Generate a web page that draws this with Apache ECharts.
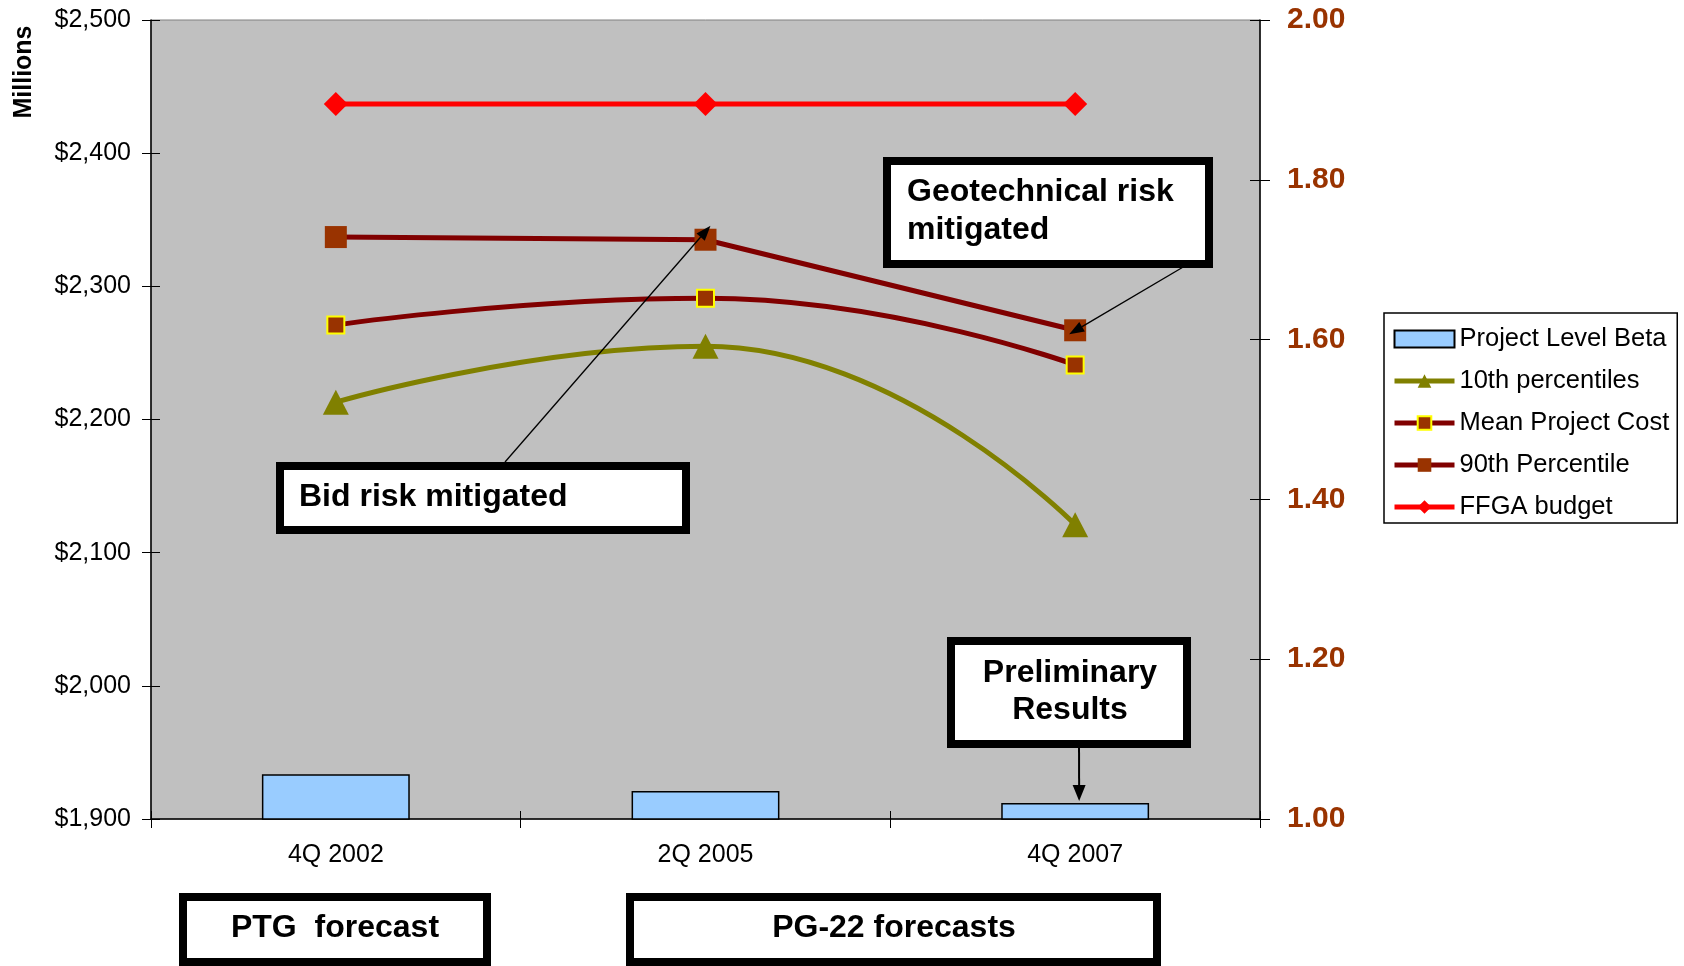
<!DOCTYPE html>
<html>
<head>
<meta charset="utf-8">
<script src="https://cdn.jsdelivr.net/npm/echarts@6/dist/echarts.min.js"></script>
<style>
html,body{margin:0;padding:0;background:#fff;}
#c{width:1684px;height:966px;}
</style>
</head>
<body>
<div id="c"></div>
<script>
var categories = ['4Q 2002', '2Q 2005', '4Q 2007'];
var projectLevelBeta = [1.056, 1.035, 1.020];
var tenthPercentiles = [2213, 2255, 2121];
var meanProjectCost = [2271, 2291, 2241];
var ninetiethPercentile = [2337, 2335, 2267];
var ffgaBudget = [2437, 2437, 2437];
var leftTicks = {min: 1900, max: 2500, interval: 100};
var rightTicks = {min: 1.0, max: 2.0, interval: 0.2};

var FONT = "'Liberation Sans', Arial, sans-serif";
var chart = echarts.init(document.getElementById('c'));

var option = {
  backgroundColor: '#ffffff',
  animation: false,
  textStyle: {fontFamily: FONT},
  grid: {left: 151, right: 424, top: 20, bottom: 147, show: true,
    backgroundColor: '#C0C0C0', borderColor: '#808080', borderWidth: 1},
  legend: {
    orient: 'vertical', left: 1384, top: 313,
    padding: [13, 8, 3, 8], itemGap: 16, itemWidth: 60, itemHeight: 17,
    borderColor: '#000', borderWidth: 1.5, backgroundColor: '#fff',
    lineStyle: {width: 5},
    textStyle: {fontSize: 25.5, color: '#000', fontFamily: FONT, lineHeight: 25},
    data: [
      {name: 'Project Level Beta', icon: 'rect'},
      {name: '10th percentiles'},
      {name: 'Mean Project Cost'},
      {name: '90th Percentile'},
      {name: 'FFGA budget'}
    ]
  },
  xAxis: [
    {type: 'category', data: categories, position: 'bottom',
     axisLine: {lineStyle: {color: '#000', width: 1.5}},
     axisTick: {show: true, inside: false, length: 9, interval: 0, lineStyle: {color: '#000', width: 1}},
     axisLabel: {fontSize: 25, color: '#000', margin: 24, fontFamily: FONT},
     splitLine: {show: false}},
    {type: 'category', data: categories, position: 'bottom',
     axisLine: {show: false},
     axisTick: {show: true, inside: true, length: 8, interval: 0, lineStyle: {color: '#000', width: 1}},
     axisLabel: {show: false}, splitLine: {show: false}}
  ],
  yAxis: [
    {type: 'value', position: 'left', min: leftTicks.min, max: leftTicks.max, interval: leftTicks.interval,
     axisLine: {show: true, lineStyle: {color: '#000', width: 1.5}},
     axisTick: {show: true, length: 9, lineStyle: {color: '#000', width: 1}},
     axisLabel: {fontSize: 25, color: '#000', margin: 20, fontFamily: FONT,
       formatter: function (v) { return '$' + v.toLocaleString('en-US'); }},
     splitLine: {show: false}},
    {type: 'value', position: 'right', min: rightTicks.min, max: rightTicks.max, interval: rightTicks.interval,
     axisLine: {show: true, lineStyle: {color: '#000', width: 1.5}},
     axisTick: {show: true, length: 10, lineStyle: {color: '#000', width: 1}},
     axisLabel: {fontSize: 30, fontWeight: 'bold', color: '#993300', margin: 27, fontFamily: FONT,
       formatter: function (v) { return v.toFixed(2); }},
     splitLine: {show: false}},
    {type: 'value', position: 'left', min: leftTicks.min, max: leftTicks.max, interval: leftTicks.interval,
     axisLine: {show: false}, axisTick: {show: true, inside: true, length: 9, lineStyle: {color: '#000', width: 1}},
     axisLabel: {show: false}, splitLine: {show: false}},
    {type: 'value', position: 'right', min: rightTicks.min, max: rightTicks.max, interval: rightTicks.interval,
     axisLine: {show: false}, axisTick: {show: true, inside: true, length: 10, lineStyle: {color: '#000', width: 1}},
     axisLabel: {show: false}, splitLine: {show: false}}
  ],
  series: [
    {name: 'Project Level Beta', type: 'bar', yAxisIndex: 1, data: projectLevelBeta, barWidth: '40%',
     itemStyle: {color: '#99CCFF', borderColor: '#000', borderWidth: 1.5}},
    {name: '10th percentiles', type: 'line', yAxisIndex: 0, data: tenthPercentiles, smooth: 0.5,
     lineStyle: {color: '#808000', width: 5}, symbol: 'triangle', symbolSize: [26, 25],
     itemStyle: {color: '#808000'}},
    {name: 'Mean Project Cost', type: 'line', yAxisIndex: 0, data: meanProjectCost, smooth: 0.5,
     lineStyle: {color: '#800000', width: 5}, symbol: 'rect', symbolSize: 17,
     itemStyle: {color: '#993300', borderColor: '#FFFF00', borderWidth: 2}},
    {name: '90th Percentile', type: 'line', yAxisIndex: 0, data: ninetiethPercentile,
     lineStyle: {color: '#800000', width: 5}, symbol: 'rect', symbolSize: 22,
     itemStyle: {color: '#993300'}},
    {name: 'FFGA budget', type: 'line', yAxisIndex: 0, data: ffgaBudget,
     lineStyle: {color: '#FF0000', width: 5}, symbol: 'diamond', symbolSize: 24,
     itemStyle: {color: '#FF0000'}}
  ]
};
chart.setOption(option);

function box(L, T, R, B) {
  return {type: 'rect', z: 100, shape: {x: L + 4, y: T + 4, width: R - L - 8, height: B - T - 8},
    style: {fill: '#fff', stroke: '#000', lineWidth: 8}};
}
function txt(x, y, s, align) {
  return {type: 'text', z: 101, x: x, y: y,
    style: {text: s, font: 'bold 32px ' + FONT, fill: '#000', align: align || 'left', verticalAlign: 'middle'}};
}
function arrow(x1, y1, x2, y2, lw, hl, hw) {
  var dx = x2 - x1, dy = y2 - y1, len = Math.sqrt(dx * dx + dy * dy);
  var ux = dx / len, uy = dy / len;
  var bx = x2 - ux * hl, by = y2 - uy * hl;
  var px = -uy * hw / 2, py = ux * hw / 2;
  return [
    {type: 'line', z: 102, shape: {x1: x1, y1: y1, x2: bx, y2: by}, style: {stroke: '#000', lineWidth: lw}},
    {type: 'polygon', z: 102, shape: {points: [[x2, y2], [bx + px, by + py], [bx - px, by - py]]}, style: {fill: '#000'}}
  ];
}

var p90mid = chart.convertToPixel({seriesIndex: 3}, [1, ninetiethPercentile[1]]);
var p90end = chart.convertToPixel({seriesIndex: 3}, [2, ninetiethPercentile[2]]);
var pBar = chart.convertToPixel({seriesIndex: 0}, [2, projectLevelBeta[2]]);

var g = [];
g.push({type: 'text', x: 24, y: 72, rotation: Math.PI / 2, z: 101,
  style: {text: 'Millions', font: 'bold 25px ' + FONT, fill: '#000', align: 'center', verticalAlign: 'middle'}});
// Geotechnical
g.push(box(883, 157, 1213, 268));
g.push(txt(907, 192, 'Geotechnical risk'));
g.push(txt(907, 230, 'mitigated'));
g = g.concat(arrow(1190, 263, p90end[0] - 6, p90end[1] + 4, 1.3, 15, 11));
// Bid risk
g.push(box(276, 462, 690, 534));
g.push(txt(299, 497, 'Bid risk mitigated'));
g = g.concat(arrow(505, 462, p90mid[0] + 5, p90mid[1] - 14, 1.3, 15, 11));
// Preliminary
g.push(box(947, 637, 1191, 748));
g.push(txt(1070, 673, 'Preliminary', 'center'));
g.push(txt(1070, 710, 'Results', 'center'));
g = g.concat(arrow(1079, 740, pBar[0] + 4, pBar[1] - 2, 2, 16, 13));
// Bottom boxes
g.push(box(179, 893, 491, 966));
g.push(txt(335, 928, 'PTG  forecast', 'center'));
g.push(box(626, 893, 1161, 966));
g.push(txt(894, 928, 'PG-22 forecasts', 'center'));

chart.setOption({graphic: {elements: g}});
</script>
</body>
</html>
